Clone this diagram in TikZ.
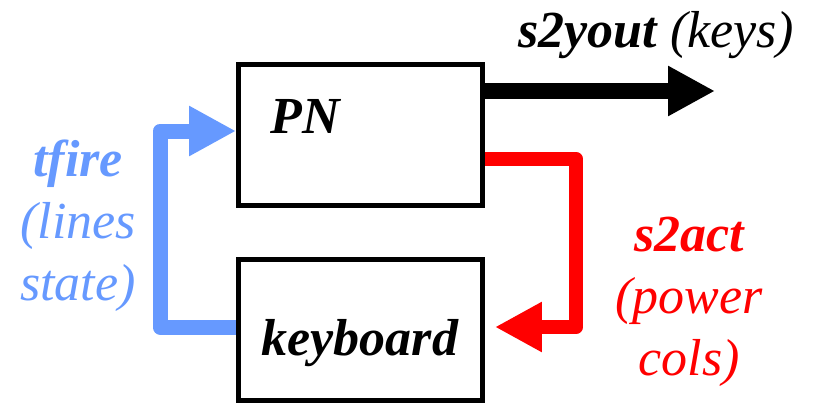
\documentclass[tikz,border=0pt]{standalone}
\usepackage{fontspec}
\setmainfont{Liberation Serif}
\usetikzlibrary{arrows.meta, calc}

\definecolor{fireblue}{RGB}{102,153,255}
\definecolor{actred}{RGB}{255,0,0}

\begin{document}
\begin{tikzpicture}[x=0.02cm, y=-0.02cm,
		block/.style={draw, line width=0.1cm, minimum width=4.88cm, minimum height=2.82cm, inner sep=0pt},
		sig/.style={line width=#1, line join=round, line cap=butt},
		bigtext/.style={font=\fontsize{29.6}{35.2}\selectfont\itshape, inner sep=0pt, align=center},
		head/.style={-{Triangle[length=0.94cm, width=0.94cm]}}]
		\useasboundingbox (0,0) rectangle (821,403);
		
		%blocks
		\node [block] (pn) at (360.5,135) {};
		\node [block] (kbd) at (360.5,330) {};
		\node [bigtext, anchor=base west] (pnname) at (270,133) {\bfseries PN};
		\node [bigtext, anchor=base] (kbdname) at (360,355) {\bfseries keyboard};
		
		%bends of the signals
		\coordinate (outtip) at (715,91);
		\coordinate (acttop) at (576,159);
		\coordinate (actbot) at (576,327);
		\coordinate (firebot) at (160,327);
		\coordinate (firetop) at (160,131);
		
		%signals
		\draw [sig=0.32cm, head] (pn.east |- outtip) -- (outtip);
		\draw [sig=0.29cm, actred, head] (pn.east |- acttop) -- (acttop) -- (actbot) -- ([xshift=0.2cm]kbd.east |- actbot);
		\draw [sig=0.3cm, fireblue, head] (kbd.west |- firebot) -- (firebot) -- (firetop) -- (pn.west |- firetop);
		
		%labels (base = last line)
		\node [bigtext, anchor=base west] (outlbl) at (518,47) {\textbf{s2yout} (keys)};
		\node [bigtext, text=fireblue, anchor=base] (firelbl) at (78,300) {\textbf{tfire}\\(lines\\state)};
		\node [bigtext, text=actred, anchor=base] (actlbl) at (689,375) {\textbf{s2act}\\(power\\cols)};
	\end{tikzpicture}
\end{document}
